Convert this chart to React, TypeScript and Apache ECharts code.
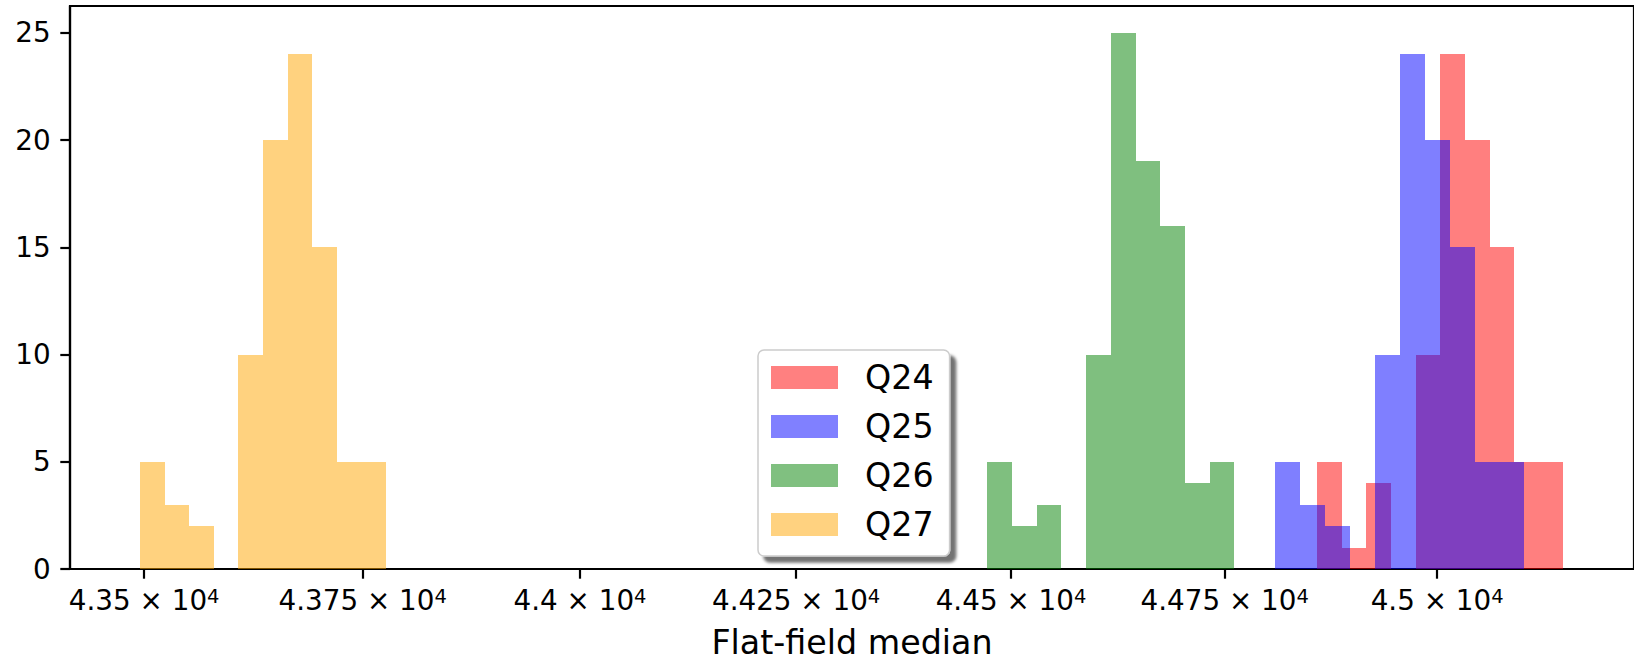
import React, { useEffect, useRef } from 'react';
import * as echarts from 'echarts';

// ---- data ----
const seriesNames = ['Q24', 'Q25', 'Q26', 'Q27'];
const seriesColors = ['rgba(255,0,0,0.5)', 'rgba(0,0,255,0.5)', 'rgba(0,128,0,0.5)', 'rgba(255,165,0,0.5)'];
const legendColors = ['#ff8080', '#8080ff', '#80c080', '#ffd280'];

const q24Edges = [44858.5, 44887.6, 44916.6, 44945.7, 44974.8, 45003.9, 45032.9, 45062.0, 45091.1, 45120.1, 45149.2];
const q24Counts = [5, 1, 4, 0, 10, 24, 20, 15, 5, 5];

const q25Edges = [44809.7, 44839.0, 44868.4, 44897.7, 44927.1, 44956.4, 44985.8, 45015.1, 45044.5, 45073.8, 45103.2];
const q25Counts = [5, 3, 2, 0, 10, 24, 20, 15, 5, 5];

const q26Edges = [44472.1, 44501.0, 44530.0, 44558.9, 44587.8, 44616.8, 44645.7, 44674.6, 44703.5, 44732.5, 44761.4];
const q26Counts = [5, 2, 3, 0, 10, 25, 19, 16, 4, 5];

const q27Edges = [43495.1, 43523.3, 43551.4, 43579.6, 43607.7, 43635.9, 43664.1, 43692.2, 43720.4, 43748.5, 43776.7];
const q27Counts = [5, 3, 2, 0, 10, 20, 24, 15, 5, 5];

const xTickValues = [43500, 43750, 44000, 44250, 44500, 44750, 45000];
const yTickValues = [0, 5, 10, 15, 20, 25];
const xMin = 43415.5;
const xMax = 45232.9;
const yMin = 0;
const yMax = 26.25;
const xAxisName = 'Flat-field median';

const FONT = 'DejaVu Sans';

function toBins(edges: number[], counts: number[]) {
  return counts.map((c, i) => [edges[i], edges[i + 1], c]);
}

export default function App() {
  const ref = useRef<HTMLDivElement>(null);

  useEffect(() => {
    if (!ref.current) return;
    const chart = echarts.init(ref.current, null, { renderer: 'svg' });

    const allEdges = [q24Edges, q25Edges, q26Edges, q27Edges];
    const allCounts = [q24Counts, q25Counts, q26Counts, q27Counts];

    const series = seriesNames.map((name, si) => ({
      type: 'custom',
      name,
      data: toBins(allEdges[si], allCounts[si]),
      encode: { x: [0, 1], y: 2 },
      itemStyle: { color: legendColors[si] },
      clip: true,
      renderItem: (params: any, api: any) => {
        const x0 = api.value(0);
        const x1 = api.value(1);
        const c = api.value(2);
        const a = api.coord([x0, 0]);
        const b = api.coord([x1, c]);
        const left = Math.round(a[0]);
        const right = Math.round(b[0]);
        const top = Math.round(b[1]);
        const bottom = a[1];
        return {
          type: 'rect',
          shape: { x: left, y: top, width: right - left, height: bottom - top },
          style: { fill: seriesColors[si], stroke: 'none' },
        };
      },
    }));

    const axisLineStyle = { color: '#000', width: 2.2 };

    chart.setOption({
      animation: false,
      textStyle: { fontFamily: FONT },
      grid: {
        left: 70,
        top: 6,
        width: 1568,
        height: 567.3,
        show: true,
        borderColor: '#000',
        borderWidth: 2.2,
        backgroundColor: 'transparent',
      },
      legend: {
        orient: 'vertical',
        left: 758,
        top: 350,
        padding: [11, 16, 15, 13],
        itemWidth: 67,
        itemHeight: 23,
        itemGap: 16,
        backgroundColor: '#fff',
        borderColor: '#cccccc',
        borderWidth: 1.5,
        borderRadius: 6,
        shadowColor: 'rgba(0,0,0,0.55)',
        shadowBlur: 3,
        shadowOffsetX: 6,
        shadowOffsetY: 6,
        textStyle: { fontSize: 33.3, color: '#000', fontFamily: FONT, padding: [0, 0, 0, 22] },
        data: seriesNames.map((n, i) => ({ name: n, icon: 'rect', itemStyle: { color: legendColors[i] } })),
      },
      xAxis: {
        type: 'log',
        logBase: 10,
        min: xMin,
        max: xMax,
        name: xAxisName,
        nameLocation: 'middle',
        nameGap: 57,
        nameTextStyle: { fontSize: 33.3, color: '#000', fontFamily: FONT },
        axisLine: { show: true, lineStyle: axisLineStyle },
        axisTick: { show: true, length: 9.7, lineStyle: axisLineStyle, customValues: xTickValues },
        minorTick: { show: false },
        splitLine: { show: false },
        axisLabel: {
          customValues: xTickValues,
          margin: 17,
          color: '#000',
          fontSize: 27.8,
          fontFamily: FONT,
          hideOverlap: false,
          formatter: (v: number) => {
            const m = parseFloat((v / 10000).toFixed(4)).toString();
            return `{m|${m} × 10}{s|4}`;
          },
          rich: {
            m: { fontSize: 27.8, color: '#000', fontFamily: FONT },
            s: { fontSize: 19.5, color: '#000', fontFamily: FONT, padding: [0, 0, 9, 0] },
          },
        },
      },
      yAxis: {
        type: 'value',
        min: yMin,
        max: yMax,
        axisLine: { show: true, lineStyle: axisLineStyle },
        axisTick: { show: true, length: 9.7, lineStyle: axisLineStyle, customValues: yTickValues },
        splitLine: { show: false },
        axisLabel: {
          customValues: yTickValues,
          margin: 19.4,
          color: '#000',
          fontSize: 27.8,
          fontFamily: FONT,
        },
      },
      series,
    });

    return () => chart.dispose();
  }, []);

  return (
    <div
      ref={ref}
      style={{ position: 'absolute', left: 0, top: 0, width: 1634, height: 664, background: '#fff' }}
    />
  );
}
